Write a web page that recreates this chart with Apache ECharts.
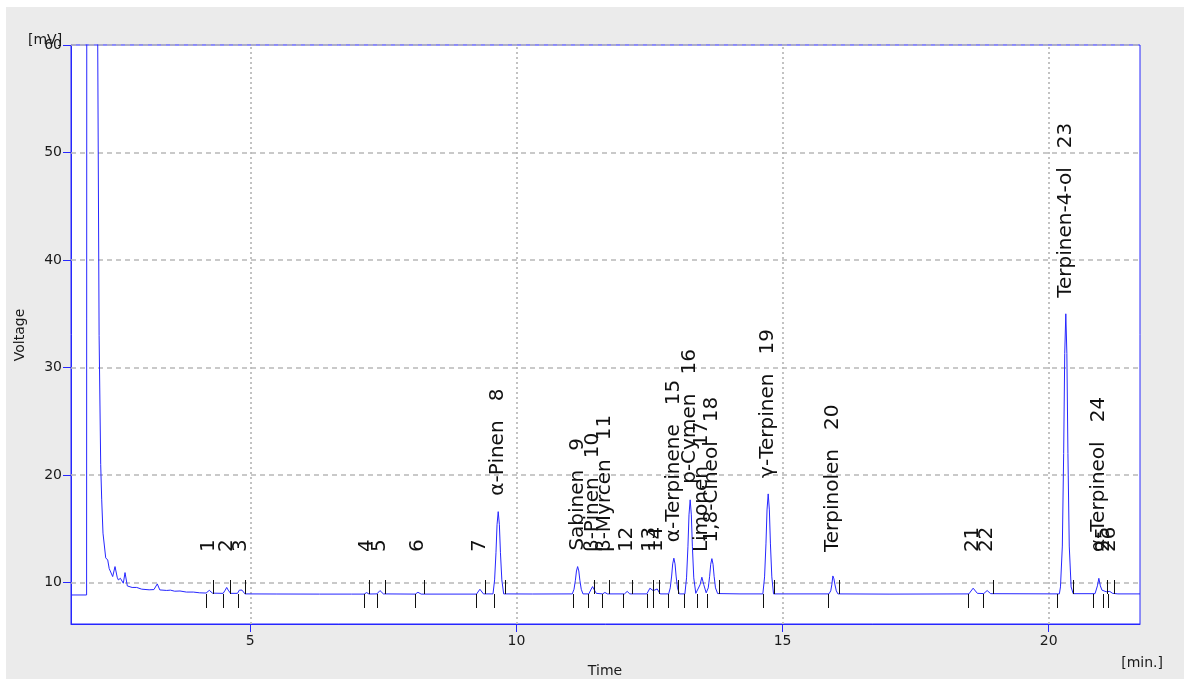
<!DOCTYPE html>
<html><head><meta charset="utf-8">
<script src="https://cdn.jsdelivr.net/npm/echarts@6/dist/echarts.min.js"></script>
<style>html,body{margin:0;padding:0;background:#fff;}#c{width:1184px;height:679px;}</style>
</head><body><div id="c"></div>
<script>
// Detector signal [time (min), voltage (mV)]
const signal = [
  [1.632, 8.85], [1.925, 8.85], [1.93, 95], [2.12, 95], [2.134, 60], [2.16, 33], [2.19, 21], [2.209, 17.7],
  [2.233, 14.6], [2.284, 12.3], [2.322, 12.1], [2.35, 11.3], [2.415, 10.56], [2.459, 11.49], [2.50, 10.5],
  [2.521, 10.25], [2.56, 10.4], [2.615, 9.94], [2.647, 10.93], [2.69, 9.69], [2.78, 9.55], [2.866, 9.55],
  [2.96, 9.39], [3.10, 9.33], [3.19, 9.35], [3.253, 9.88], [3.30, 9.32], [3.43, 9.27], [3.50, 9.3],
  [3.58, 9.2], [3.68, 9.22], [3.80, 9.12], [3.93, 9.12], [4.05, 9.05], [4.17, 9.03], [4.23, 9.28],
  [4.29, 9.02], [4.49, 9.0], [4.53, 9.3], [4.557, 9.55], [4.585, 9.3], [4.63, 9.0], [4.76, 9.0],
  [4.795, 9.3], [4.82, 9.48], [4.845, 9.3], [4.90, 8.95], [5.5, 8.94], [6.3, 8.93], [6.9, 8.93],
  [7.14, 8.93], [7.186, 9.07], [7.23, 8.94], [7.38, 8.95], [7.436, 9.26], [7.50, 8.95], [8.10, 8.93],
  [8.15, 9.10], [8.21, 8.93], [9.25, 8.93], [9.314, 9.38], [9.38, 8.95],
  [9.56, 8.95], [9.59, 10.25], [9.616, 12.78], [9.636, 15.38], [9.658, 16.6], [9.68, 15.38], [9.70, 12.78], [9.726, 10.25], [9.76, 8.95],
  [10.3, 8.94], [11.05, 8.95], [11.082, 9.38], [11.108, 10.22], [11.128, 11.08], [11.150, 11.49], [11.172, 11.08], [11.192, 10.22], [11.218, 9.38], [11.25, 8.95],
  [11.36, 8.95], [11.405, 9.4], [11.431, 9.63], [11.455, 9.4], [11.50, 9.0], [11.62, 8.95], [11.662, 9.08],
  [11.71, 8.95], [12.03, 8.95], [12.081, 9.18], [12.13, 8.95], [12.45, 8.95], [12.508, 9.48], [12.57, 9.25],
  [12.645, 9.41], [12.70, 8.95],
  [12.86, 8.95], [12.89, 9.51], [12.916, 10.61], [12.936, 11.74], [12.958, 12.27], [12.98, 11.74], [13.0, 10.61], [13.026, 9.51], [13.06, 8.95],
  [13.165, 8.95], [13.196, 10.44], [13.222, 13.33], [13.242, 16.3], [13.264, 17.7], [13.286, 16.3], [13.306, 13.33], [13.332, 10.44], [13.37, 9.0],
  [13.40, 9.0], [13.45, 9.8], [13.484, 10.5], [13.52, 9.8], [13.565, 9.05],
  [13.604, 9.51], [13.63, 10.59], [13.65, 11.7], [13.672, 12.23], [13.694, 11.7], [13.714, 10.59], [13.74, 9.51], [13.78, 8.98],
  [14.2, 8.95], [14.63, 8.95], [14.662, 10.53], [14.688, 13.6], [14.708, 16.76], [14.730, 18.25], [14.752, 16.76], [14.772, 13.6], [14.798, 10.53], [14.83, 8.95],
  [15.87, 8.95], [15.905, 9.23], [15.925, 9.79], [15.945, 10.62], [15.965, 10.35], [15.985, 9.79], [16.01, 9.23], [16.04, 8.95],
  [17.0, 8.93], [18.50, 8.95], [18.58, 9.48], [18.66, 9.0], [18.78, 8.98], [18.843, 9.26], [18.91, 8.97],
  [20.20, 8.95], [20.221, 9.6], [20.256, 13.4], [20.281, 22.0], [20.301, 31.3], [20.321, 35.0], [20.341, 31.3], [20.361, 22.0], [20.386, 13.4], [20.421, 9.6], [20.46, 8.97],
  [20.87, 8.97], [20.915, 9.7], [20.942, 10.4], [20.97, 9.7], [21.0, 9.3], [21.03, 9.35], [21.08, 9.15],
  [21.147, 9.18], [21.20, 9.0], [21.3, 8.95], [21.715, 8.95]
];

const peakNumbers = [1, 2, 3, 4, 5, 6, 7, 8, 9, 10, 11, 12, 13, 14, 15, 16, 17, 18, 19, 20, 21, 22, 23, 24, 25, 26];
const peakNames = ['', '', '', '', '', '', '', 'α-Pinen', 'Sabinen', 'β-Pinen', 'β-Myrcen', '', '', '',
  'α-Terpinene', 'p-Cymen', 'Limonen', '1,8-Cineol', 'γ-Terpinen', 'Terpinolen', '', '', 'Terpinen-4-ol', 'α-Terpineol', '', ''];
const peakTimes = [4.23, 4.557, 4.82, 7.186, 7.436, 8.15, 9.314, 9.658, 11.15, 11.431, 11.662, 12.081, 12.508,
  12.645, 12.958, 13.264, 13.484, 13.672, 14.73, 15.945, 18.58, 18.843, 20.321, 20.942, 21.03, 21.147];
const peakHeights = [9.28, 9.55, 9.48, 9.07, 9.26, 9.1, 9.38, 16.6, 11.49, 9.63, 9.08, 9.18, 9.48,
  9.41, 12.27, 17.7, 10.5, 12.23, 18.25, 10.62, 9.48, 9.26, 35.0, 10.4, 9.35, 9.18];
const peakStarts = [4.168, 4.482, 4.775, 7.136, 7.374, 8.094, 9.234, 9.583, 11.067, 11.349, 11.6, 12.006, 12.457,
  12.569, 12.851, 13.146, 13.396, 13.572, 14.624, 15.851, 18.475, 18.757, 20.165, 20.834, 21.022, 21.116];
const peakEnds = [4.305, 4.619, 4.906, 7.235, 7.536, 8.263, 9.414, 9.784, null, 11.456, 11.737, 12.164, 12.569,
  12.677, 13.039, null, null, 13.809, 14.837, 16.058, null, 18.956, 20.458, null, 21.097, 21.223];
const baselineLevel = 8.93;
const xTicks = [5, 10, 15, 20];
const yTicks = [10, 20, 30, 40, 50, 60];

const FONT = 'DejaVu Sans';
const BLUE = '#2626ff';

const chart = echarts.init(document.getElementById('c'), null, {renderer: 'canvas'});

function tickSeries(times, dir) {
  return {
    type: 'custom',
    silent: true,
    z: 4,
    data: times.filter(v => v != null).map(t => [t, baselineLevel]),
    encode: {x: 0, y: 1},
    renderItem: function (params, api) {
      const p = api.coord([api.value(0), api.value(1)]);
      const x = Math.round(p[0]) + 0.5;
      const y = Math.round(p[1]);
      return {type: 'line', shape: {x1: x, y1: y, x2: x, y2: y + dir * 14},
        style: {stroke: '#111', lineWidth: 1}};
    }
  };
}

const option = {
  backgroundColor: '#ebebeb',
  animation: false,
  grid: {left: 71, right: 44, top: 45, bottom: 55, show: true, backgroundColor: '#ffffff',
    borderColor: BLUE, borderWidth: 1, containLabel: false, outerBoundsMode: 'none'},
  xAxis: {
    type: 'value', min: 1.632, max: 21.715,
    axisLine: {show: true, onZero: false, lineStyle: {color: BLUE, width: 1}},
    axisTick: {show: true, customValues: xTicks, length: 8, lineStyle: {color: BLUE}},
    axisLabel: {customValues: xTicks, margin: 10, color: '#1a1a1a', fontSize: 14, fontFamily: FONT},
    splitLine: {show: false}
  },
  yAxis: {
    type: 'value', min: 6.15, max: 60,
    axisLine: {show: true, onZero: false, lineStyle: {color: BLUE, width: 1}},
    axisTick: {show: true, customValues: yTicks, length: 8, lineStyle: {color: BLUE}},
    axisLabel: {customValues: yTicks, margin: 9, color: '#1a1a1a', fontSize: 14, fontFamily: FONT},
    splitLine: {show: false}
  },
  graphic: [
    {type: 'rect', shape: {x: 0, y: 0, width: 1184, height: 7}, style: {fill: '#fff'}, silent: true},
    {type: 'rect', shape: {x: 0, y: 0, width: 6, height: 679}, style: {fill: '#fff'}, silent: true},
    {type: 'text', x: 28, y: 40, z: 10, style: {text: '[mV]', fontSize: 14, fontFamily: FONT, fill: '#1a1a1a', align: 'left', verticalAlign: 'middle'}},
    {type: 'text', x: 20, y: 335, rotation: Math.PI / 2, style: {text: 'Voltage', fontSize: 14, fontFamily: FONT, fill: '#1a1a1a', align: 'center', verticalAlign: 'middle'}},
    {type: 'text', x: 605, y: 671, style: {text: 'Time', fontSize: 14, fontFamily: FONT, fill: '#1a1a1a', align: 'center', verticalAlign: 'middle'}},
    {type: 'text', x: 1163, y: 663, style: {text: '[min.]', fontSize: 14, fontFamily: FONT, fill: '#1a1a1a', align: 'right', verticalAlign: 'middle'}}
  ],
  series: [
    {
      type: 'line', data: signal, showSymbol: false, symbol: 'none', clip: true, z: 3,
      lineStyle: {color: BLUE, width: 1}, silent: true,
      markLine: {
        silent: true, symbol: ['none', 'none'], z: 1, label: {show: false}, animation: false,
        data: [].concat(
          xTicks.map(v => ({xAxis: v, lineStyle: {color: '#c2c2c2', type: [2, 3], width: 2}})),
          yTicks.map(v => ({yAxis: v, lineStyle: {color: '#b8b8b8', type: [5, 4], width: 1.5}}))
        )
      }
    },
    tickSeries(peakStarts, 1),
    tickSeries(peakEnds, -1),
    {
      type: 'custom', silent: true, z: 5,
      data: peakTimes.map((t, i) => [t, peakHeights[i], i]),
      encode: {x: 0, y: 1},
      renderItem: function (params, api) {
        const i = api.value(2);
        const a = api.coord([api.value(0), api.value(1)]);
        const b = api.coord([api.value(0), baselineLevel]);
        const y = Math.min(a[1] - 16, b[1] - 42);
        const name = peakNames[i];
        const txt = name ? name + '   ' + peakNumbers[i] : String(peakNumbers[i]);
        return {type: 'text', x: a[0], y: y, rotation: Math.PI / 2,
          style: {text: txt, fontSize: 20, fontFamily: FONT, fill: '#111', align: 'left', verticalAlign: 'middle'}};
      }
    }
  ]
};
chart.setOption(option);
</script></body></html>
